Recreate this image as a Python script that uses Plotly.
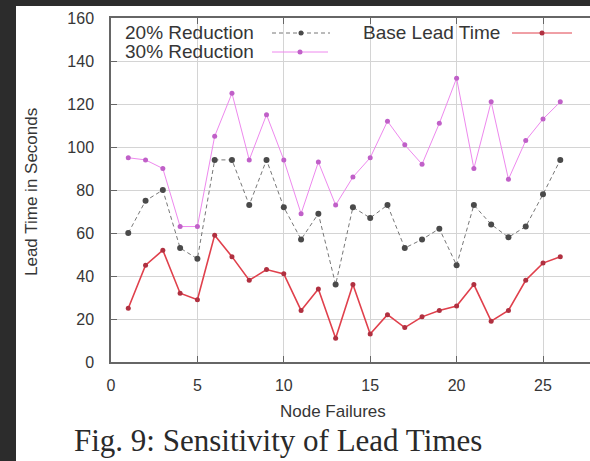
import plotly.graph_objects as go

x_failures = list(range(1, 27))
base_lead = [25, 45, 52, 32, 29, 59, 49, 38, 43, 41, 24, 34, 11, 36, 13, 22, 16, 21, 24, 26, 36, 19, 24, 38, 46, 49]
red20 = [60, 75, 80, 53, 48, 94, 94, 73, 94, 72, 57, 69, 36, 72, 67, 73, 53, 57, 62, 45, 73, 64, 58, 63, 78, 94]
red30 = [95, 94, 90, 63, 63, 105, 125, 94, 115, 94, 69, 93, 73, 86, 95, 112, 101, 92, 111, 132, 90, 121, 85, 103, 113, 121]
x_ticks = [0, 5, 10, 15, 20, 25]
y_ticks = [0, 20, 40, 60, 80, 100, 120, 140, 160]

W, H = 590, 461
L, R, T, B = 111, 0, 18, 99
PW, PH = W - L - R, H - T - B

def px(xp):
    return (xp - L) / PW

def py(yp):
    return (H - B - yp) / PH

C20 = "#4a4a4a"
C30 = "#ee88ee"
CB = "#e0404c"
DASH20 = "4px,3px"

fig = go.Figure()
fig.add_trace(go.Scatter(x=x_failures, y=red20, mode="lines+markers", name="20% Reduction",
                         line=dict(color="#777777", width=1, dash=DASH20),
                         marker=dict(color=C20, size=6)))
fig.add_trace(go.Scatter(x=x_failures, y=red30, mode="lines+markers", name="30% Reduction",
                         line=dict(color=C30, width=1),
                         marker=dict(color="#c060c8", size=5)))
fig.add_trace(go.Scatter(x=x_failures, y=base_lead, mode="lines+markers", name="Base Lead Time",
                         line=dict(color=CB, width=1.6),
                         marker=dict(color="#b03040", size=5)))

shapes = [
    dict(type="rect", xref="paper", yref="paper", x0=px(16), x1=px(600), y0=py(470), y1=py(6),
         fillcolor="white", line=dict(width=0), layer="below"),
]
# legend samples (gnuplot style: text then sample)
leg = [("20% Reduction", 123, 33, 272, 330, "#777777", DASH20, C20),
       ("30% Reduction", 123, 52, 272, 328, C30, "solid", "#c060c8"),
       ("Base Lead Time", 361, 33, 512, 572, CB, "solid", "#b03040")]
annotations = []
for txt, tx, ty, l0, l1, lc, ld, mc in leg:
    annotations.append(dict(text=txt, xref="paper", yref="paper", x=px(tx), y=py(ty),
                            xanchor="left", yanchor="middle", showarrow=False,
                            font=dict(family="Liberation Sans, Arial", size=19, color="#363636")))
    shapes.append(dict(type="line", xref="paper", yref="paper", x0=px(l0), x1=px(l1), y0=py(ty), y1=py(ty),
                       line=dict(color=lc, width=1, dash=ld)))
    mx = (l0 + l1) / 2
    shapes.append(dict(type="circle", xref="paper", yref="paper", x0=px(mx - 2.5), x1=px(mx + 2.5),
                       y0=py(ty + 2.5), y1=py(ty - 2.5), fillcolor=mc, line=dict(width=0)))

annotations.append(dict(text="Node Failures", xref="paper", yref="paper", x=px(333), y=py(411),
                        xanchor="center", yanchor="middle", showarrow=False,
                        font=dict(family="Liberation Sans, Arial", size=17, color="#363636")))
annotations.append(dict(text="Lead Time in Seconds", xref="paper", yref="paper", x=px(31), y=py(192),
                        xanchor="center", yanchor="middle", showarrow=False, textangle=-90,
                        font=dict(family="Liberation Sans, Arial", size=17, color="#363636")))
annotations.append(dict(text="Fig. 9: Sensitivity of Lead Times", xref="paper", yref="paper", x=px(278), y=py(440),
                        xanchor="center", yanchor="middle", showarrow=False,
                        font=dict(family="Liberation Serif, Times New Roman", size=31, color="#2a2a2a")))

axis_common = dict(showgrid=True, gridcolor="#d4d4d4", gridwidth=1, zeroline=False,
                   showline=True, linecolor="#666666", linewidth=1.5,
                   ticks="inside", ticklen=6, tickcolor="#666666",
                   tickfont=dict(family="Liberation Sans, Arial", size=16, color="#363636"))

fig.update_layout(
    width=W, height=H, autosize=False,
    margin=dict(l=L, r=R, t=T, b=B, pad=0),
    paper_bgcolor="#2c2c2c", plot_bgcolor="white",
    showlegend=False,
    shapes=shapes, annotations=annotations,
    xaxis=dict(range=[0, 27.72], tickvals=x_ticks, mirror="ticks", ticklabelstandoff=8, **axis_common),
    yaxis=dict(range=[0, 160], tickvals=y_ticks, mirror=False, ticklabelstandoff=12, **axis_common),
)

fig.write_html("out.html")
